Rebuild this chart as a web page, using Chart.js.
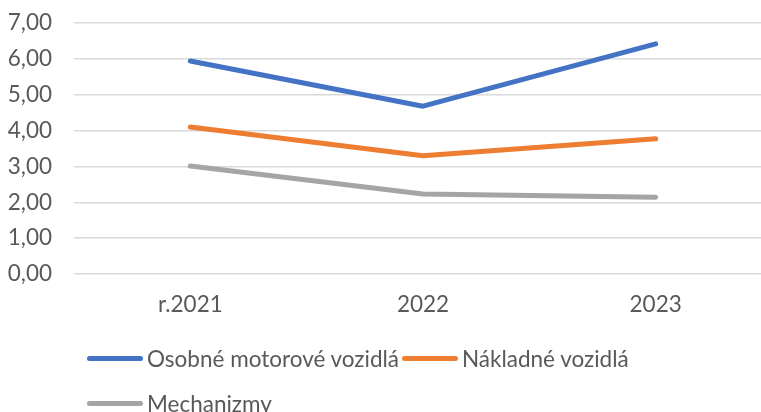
<!DOCTYPE html>
<html>
<head>
<meta charset="utf-8">
<script src="https://cdn.jsdelivr.net/npm/chart.js@4/dist/chart.umd.min.js"></script>
<style>
  html, body { margin: 0; padding: 0; background: #fff; overflow: hidden; width: 761px; height: 412px; }
  #wrap { position: absolute; left: 0; top: 0; width: 772px; height: 412px; }
  #legend { position: absolute; left: 0; top: 0; width: 761px; height: 412px; pointer-events: none;
            font-family: Lato, "Open Sans", sans-serif; font-size: 22.5px; color: #595959; }
  .item { position: absolute; display: flex; align-items: center; white-space: nowrap; }
  .sw { width: 56px; height: 5px; border-radius: 3px; margin-right: 4px; }
</style>
</head>
<body>
<div id="wrap"><canvas id="c"></canvas></div>
<div id="legend"></div>
<script>
const categories = ["r.2021", "2022", "2023"];
const seriesNames = ["Osobné motorové vozidlá", "Nákladné vozidlá", "Mechanizmy"];
const osobne = [5.94, 4.68, 6.42];
const nakladne = [4.10, 3.30, 3.77];
const mechanizmy = [3.01, 2.23, 2.14];
const colors = ["#4472C4", "#ED7D31", "#A5A5A5"];
const yTicks = [0, 1, 2, 3, 4, 5, 6, 7];

const FONT = "Lato, 'Open Sans', sans-serif";
const values = [osobne, nakladne, mechanizmy];

new Chart(document.getElementById("c"), {
  type: "line",
  data: {
    labels: categories,
    datasets: values.map((v, i) => ({
      label: seriesNames[i],
      data: v,
      borderColor: colors[i],
      backgroundColor: colors[i],
      borderWidth: 5,
      pointRadius: 0,
      tension: 0,
      borderCapStyle: "round",
      borderJoinStyle: "round"
    }))
  },
  options: {
    responsive: true,
    maintainAspectRatio: false,
    animation: false,
    layout: { padding: { top: 23, right: 0, left: 0, bottom: 0 } },
    plugins: { legend: { display: false }, tooltip: { enabled: false } },
    scales: {
      x: {
        offset: true,
        grid: { display: false, drawTicks: false },
        border: { display: false },
        ticks: { color: "#595959", font: { family: FONT, size: 22.5 }, padding: 17 },
        afterFit: s => { s.height = 138; }
      },
      y: {
        min: 0, max: 7,
        afterBuildTicks: s => { s.ticks = yTicks.map(v => ({ value: v })); },
        grid: { color: "#D9D9D9", lineWidth: 1.5, drawTicks: false },
        border: { display: false },
        ticks: {
          color: "#595959", font: { family: FONT, size: 22.5 }, padding: 22,
          callback: v => v.toFixed(2).replace(".", ",")
        },
        afterFit: s => { s.width = 74; s.paddingTop = 0; s.paddingBottom = 0; }
      }
    }
  }
});

// legend built from the series arrays
const legend = document.getElementById("legend");
const pos = [[87, 358], [402, 358], [87, 403]];
seriesNames.forEach((name, i) => {
  const d = document.createElement("div");
  d.className = "item";
  d.style.left = pos[i][0] + "px";
  d.style.top = (pos[i][1] - 15) + "px";
  d.style.height = "30px";
  const sw = document.createElement("span");
  sw.className = "sw";
  sw.style.background = colors[i];
  const t = document.createElement("span");
  t.textContent = name;
  d.appendChild(sw); d.appendChild(t);
  legend.appendChild(d);
});
</script>
</body>
</html>
